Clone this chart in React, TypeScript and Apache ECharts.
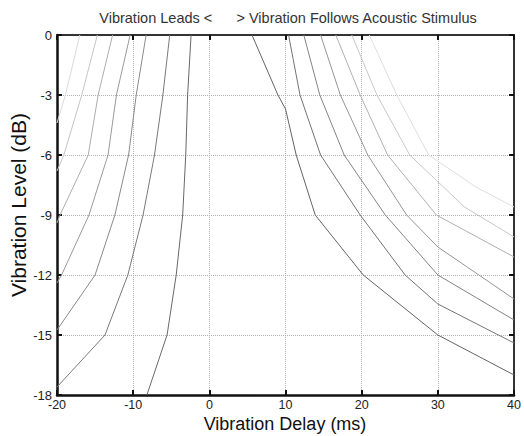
import React, { useEffect, useRef } from 'react';
import * as echarts from 'echarts';

const titleText = 'Vibration Leads <      > Vibration Follows Acoustic Stimulus';
const xName = 'Vibration Delay (ms)';
const yName = 'Vibration Level (dB)';

// [delay (ms), level (dB)] — contours where vibration leads (left side)
const lead1 = [[-17.0, 0], [-18.9, -3], [-20, -4.4]];
const lead2 = [[-14.7, 0], [-16.75, -3], [-19.1, -6], [-20, -6.8]];
const lead3 = [[-12.7, 0], [-14.6, -3], [-15.9, -6], [-19.6, -9], [-20, -9.4]];
const lead4 = [[-10.4, 0], [-12.2, -3], [-13.3, -6], [-15.8, -9], [-19.4, -12], [-20, -12.4]];
const lead5 = [[-8.3, 0], [-9.6, -3], [-10.6, -6], [-12.4, -9], [-15.0, -12], [-20, -14.75]];
const lead6 = [[-5.2, 0], [-6.1, -3], [-7.2, -6], [-8.7, -9], [-10.7, -12], [-13.7, -15], [-20, -17.6]];
const lead7 = [[-2.4, 0], [-2.85, -3], [-3.1, -6], [-3.5, -9], [-4.35, -12], [-5.55, -15], [-8.2, -18]];

// contours where vibration follows (right side)
const follow1 = [[5.6, 0], [9.0, -3], [10.0, -3.7], [11.4, -6], [13.9, -9], [20.2, -12], [30.0, -15], [40, -17.0]];
const follow2 = [[10.4, 0], [11.9, -3], [14.6, -6], [19.8, -9], [25.7, -12], [30.0, -13.45], [40, -15.4]];
const follow3 = [[12.4, 0], [14.5, -3], [17.7, -6], [23.1, -9], [30.0, -12], [40, -14.25]];
const follow4 = [[14.6, 0], [17.2, -3], [20.8, -6], [25.9, -9], [30.0, -10.6], [40, -13.2]];
const follow5 = [[16.6, 0], [19.8, -3], [23.4, -6], [29.8, -9], [40, -11.1]];
const follow6 = [[18.7, 0], [22.0, -3], [26.3, -6], [33.5, -8.6], [40, -10.1]];
const follow7 = [[21.0, 0], [24.6, -3], [28.8, -6], [35.0, -7.6], [40, -8.6]];

const leadLines = [lead1, lead2, lead3, lead4, lead5, lead6, lead7];
const leadColors = ['#dadada', '#c4c4c4', '#adadad', '#9a9a9a', '#8a8a8a', '#7a7a7a', '#696969'];
const followLines = [follow1, follow2, follow3, follow4, follow5, follow6, follow7];
const followColors = ['#646464', '#747474', '#848484', '#959595', '#b0b0b0', '#c8c8c8', '#dedede'];

const FONT = 'Liberation Sans, Arial, sans-serif';

export default function App() {
  const ref = useRef<HTMLDivElement>(null);
  useEffect(() => {
    if (!ref.current) return;
    const chart = echarts.init(ref.current, undefined, { renderer: 'svg' });
    const mkSeries = (data: number[][], color: string) => ({
      type: 'line',
      data,
      symbol: 'none',
      showSymbol: false,
      silent: true,
      clip: true,
      xAxisIndex: 0,
      yAxisIndex: 0,
      lineStyle: { color, width: 1 },
      z: 3,
    });
    const series = [
      ...leadLines.map((d, i) => mkSeries(d, leadColors[i])),
      ...followLines.map((d, i) => mkSeries(d, followColors[i])),
    ];
    const tickStyle = { show: true, inside: true, length: 5, lineStyle: { color: '#111', width: 2 } };
    chart.setOption({
      animation: false,
      backgroundColor: '#ffffff',
      grid: { left: 57, right: 8, top: 35, bottom: 41, containLabel: false },
      xAxis: [
        {
          type: 'value', min: -20, max: 40, interval: 10, position: 'bottom',
          axisLine: { show: true, onZero: false, lineStyle: { color: '#111', width: 2.5 } },
          axisTick: tickStyle,
          axisLabel: { color: '#222', fontSize: 12.5, margin: 3, fontFamily: FONT },
          splitLine: { show: true, lineStyle: { color: '#b4b4b4', type: 'dotted', width: 1 } },
        },
        {
          type: 'value', min: -20, max: 40, interval: 10, position: 'top',
          axisLine: { show: true, onZero: false, lineStyle: { color: '#333', width: 2 } },
          axisTick: tickStyle,
          axisLabel: { show: false },
          splitLine: { show: false },
        },
      ],
      yAxis: [
        {
          type: 'value', min: -18, max: 0, interval: 3, position: 'left',
          axisLine: { show: true, onZero: false, lineStyle: { color: '#111', width: 2.5 } },
          axisTick: tickStyle,
          axisLabel: { color: '#222', fontSize: 13, margin: 5, fontFamily: FONT },
          splitLine: { show: true, lineStyle: { color: '#b4b4b4', type: 'dotted', width: 1 } },
        },
        {
          type: 'value', min: -18, max: 0, interval: 3, position: 'right',
          axisLine: { show: true, onZero: false, lineStyle: { color: '#333', width: 2 } },
          axisTick: tickStyle,
          axisLabel: { show: false },
          splitLine: { show: false },
        },
      ],
      graphic: [
        {
          type: 'text', x: 288, y: 18,
          style: { text: titleText, fill: '#333', font: `14.5px ${FONT}`, textAlign: 'center', textVerticalAlign: 'middle' },
        },
        {
          type: 'text', x: 18, y: 205, rotation: Math.PI / 2,
          style: { text: yName, fill: '#111', font: `21px ${FONT}`, textAlign: 'center', textVerticalAlign: 'middle' },
        },
        {
          type: 'text', x: 285, y: 424,
          style: { text: xName, fill: '#111', font: `18px ${FONT}`, textAlign: 'center', textVerticalAlign: 'middle' },
        },
      ],
      series,
    });
    return () => chart.dispose();
  }, []);
  return <div ref={ref} style={{ position: 'fixed', left: 0, top: 0, width: 524, height: 436 }} />;
}
